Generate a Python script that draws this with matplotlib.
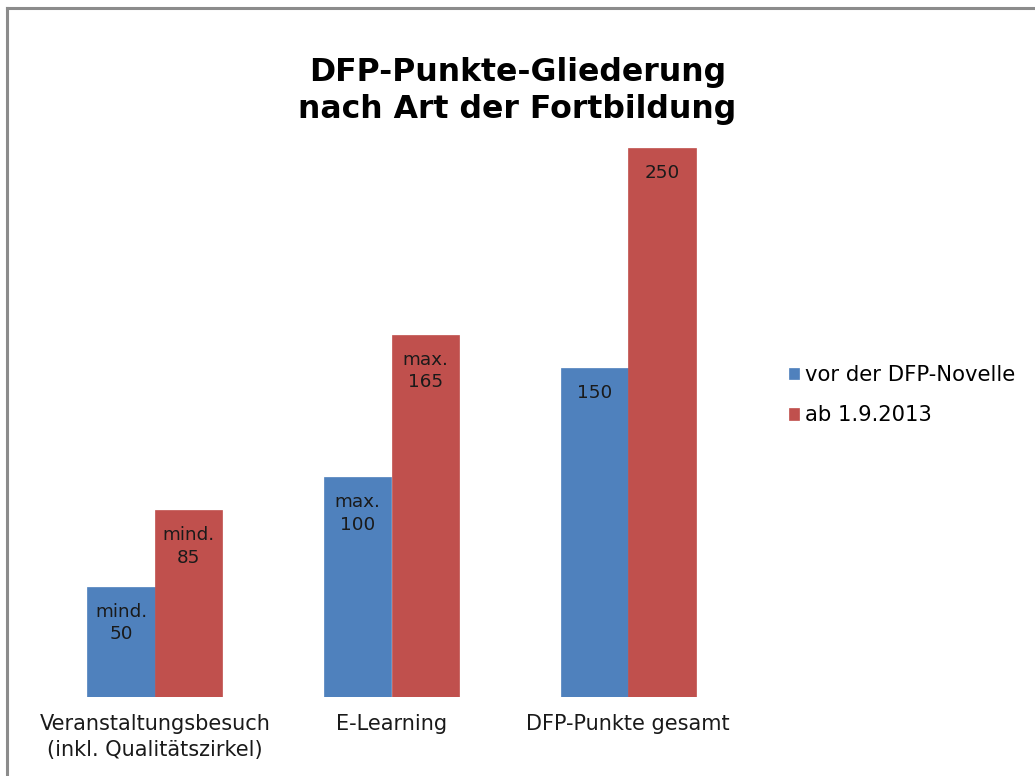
import matplotlib.pyplot as plt
import numpy as np
from matplotlib.lines import Line2D

# data
categories = ["Veranstaltungsbesuch\n(inkl. Qualitätszirkel)", "E-Learning", "DFP-Punkte gesamt"]
series_names = ["vor der DFP-Novelle", "ab 1.9.2013"]
vor_novelle = [50, 100, 150]
ab_2013 = [85, 165, 250]
vor_labels = ["mind.\n50", "max.\n100", "150"]
ab_labels = ["mind.\n85", "max.\n165", "250"]

blue = "#4F81BD"
red = "#C0504D"

fig = plt.figure(figsize=(10.35, 7.76), dpi=100)
ax = fig.add_axes([36.5 / 1035, 79 / 776, 710 / 1035, 549 / 776])

x = np.arange(len(categories))
w = 0.285
b1 = ax.bar(x - w / 2, vor_novelle, w, color=blue, edgecolor=blue, lw=0.5,
            label=series_names[0])
b2 = ax.bar(x + w / 2, ab_2013, w, color=red, edgecolor=red, lw=0.5,
            label=series_names[1])

# labels inside the bars, near the top
for bars, labels in ((b1, vor_labels), (b2, ab_labels)):
    for rect, lab in zip(bars, labels):
        ax.annotate(lab, (rect.get_x() + rect.get_width() / 2, rect.get_height()),
                    xytext=(0, -11.5), textcoords="offset points",
                    ha="center", va="top", fontsize=13.2, color="#1a1a1a",
                    linespacing=1.3)

ax.set_xlim(-0.5, 2.5)
ax.set_ylim(0, 250)
ax.set_xticks(x)
ax.set_xticklabels(categories, fontsize=15, color="#1a1a1a", linespacing=1.33)
ax.tick_params(axis="x", length=0, pad=12.5)
ax.set_yticks([])
for s in ax.spines.values():
    s.set_visible(False)

fig.text(0.5, 1 - 91 / 776, "DFP-Punkte-Gliederung\nnach Art der Fortbildung",
         ha="center", va="center", fontsize=22.7, fontweight="bold",
         linespacing=1.25)

fig.legend(loc="upper left", bbox_to_anchor=(781 / 1035, 1 - 357 / 776),
           frameon=False, fontsize=15.2, handlelength=0.43, handleheight=0.43,
           handletextpad=0.33, labelspacing=0.95, borderaxespad=0)

# outer chart border (only top and left are inside the crop)
fig.add_artist(Line2D([7 / 1035, 7 / 1035], [0, 1 - 8 / 776], color="#8c8c8c", lw=2.2))
fig.add_artist(Line2D([7 / 1035, 1], [1 - 8 / 776, 1 - 8 / 776], color="#8c8c8c", lw=2.2))

fig.savefig("out.png", dpi=100)
